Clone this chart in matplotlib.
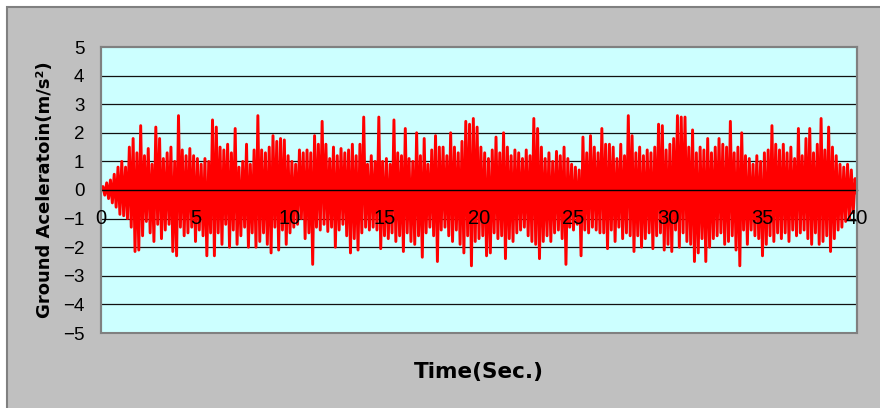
import numpy as np
import matplotlib.pyplot as plt
from matplotlib.patches import Rectangle

dt = 0.1
acc = [
    0.0, 0.12, -0.18, 0.25, -0.3, 0.35, -0.45, 0.55, -0.6, 0.8, -0.85,
    1.0, -0.9, 0.8, -1.0, 1.5, -1.3, 1.8, -2.15, 1.3, -2.1,
    2.25, -1.6, 1.2, -1.1, 1.45, -1.5, 0.9, -1.8, 2.2, -1.2,
    1.8, -1.7, 1.1, -1.4, 1.3, -1.2, 1.5, -2.15, 1.0, -2.3,
    2.6, -1.3, 1.4, -1.6, 1.2, -1.5, 1.45, -1.3, 1.2, -1.8,
    1.1, -1.4, 0.9, -1.6, 1.1, -2.3, 1.0, -1.5, 2.45, -2.3,
    2.2, -1.5, 1.5, -1.9, 1.4, -1.2, 1.6, -2.0, 1.3, -1.4,
    2.15, -1.9, 0.8, -1.6, 1.0, -1.3, 1.6, -2.0, 0.9, -1.5,
    1.4, -2.0, 2.6, -1.8, 1.4, -1.5, 1.3, -1.9, 1.5, -2.2,
    1.9, -1.3, 1.7, -2.1, 1.8, -1.4, 1.75, -1.9, 1.2, -1.5,
    1.0, -1.3, 0.9, -1.2, 1.4, -1.0, 1.3, -1.7, 1.4, -1.5,
    1.3, -2.6, 1.9, -1.3, 1.6, -1.4, 2.4, -1.2, 1.6, -1.45,
    1.1, -1.3, 1.5, -2.0, 1.2, -1.4, 1.45, -1.2, 1.3, -1.6,
    1.4, -2.2, 1.6, -1.7, 1.2, -2.1, 1.6, -1.5, 2.55, -1.3,
    0.9, -1.4, 1.2, -1.3, 1.0, -1.4, 2.55, -2.05, 1.0, -1.6,
    1.1, -1.7, 0.9, -1.5, 2.45, -1.8, 1.3, -1.6, 1.2, -2.15,
    2.15, -1.5, 1.1, -1.8, 1.0, -1.9, 2.0, -1.6, 1.2, -2.35,
    1.8, -1.5, 0.9, -1.3, 1.4, -1.6, 1.9, -2.5, 1.5, -1.4,
    1.5, -1.3, 1.2, -1.6, 2.0, -1.8, 1.5, -1.4, 1.3, -1.9,
    1.7, -2.2, 2.4, -1.6, 2.3, -2.65, 2.5, -1.8, 2.2, -1.7,
    1.5, -1.6, 1.3, -2.3, 1.1, -2.2, 1.4, -1.5, 1.85, -1.7,
    1.3, -1.6, 2.0, -2.4, 1.5, -1.7, 1.2, -1.8, 1.4, -1.5,
    1.3, -1.4, 1.1, -1.3, 1.4, -1.6, 1.2, -1.8, 2.5, -1.9,
    2.15, -2.4, 1.5, -1.8, 1.1, -1.6, 1.3, -1.8, 1.0, -1.5,
    1.35, -1.4, 1.2, -1.7, 1.5, -2.6, 1.1, -1.3, 0.9, -1.4,
    0.8, -1.2, 0.7, -2.3, 1.85, -1.4, 1.3, -1.5, 1.9, -1.3,
    1.5, -1.4, 1.3, -1.5, 2.15, -1.5, 1.6, -2.05, 1.6, -1.4,
    1.5, -1.8, 1.1, -1.3, 1.6, -1.7, 1.2, -1.5, 2.6, -1.6,
    1.9, -2.15, 1.3, -1.6, 1.5, -2.0, 1.2, -1.7, 1.4, -1.5,
    1.3, -2.05, 1.5, -1.6, 2.3, -1.5, 2.25, -2.1, 1.4, -1.9,
    1.6, -2.15, 1.8, -1.4, 2.6, -2.0, 2.55, -1.5, 2.55, -1.8,
    1.5, -1.9, 2.1, -2.5, 1.3, -2.2, 1.5, -1.7, 1.4, -2.5,
    1.8, -2.0, 1.3, -1.7, 1.5, -1.6, 1.8, -1.5, 1.6, -1.9,
    1.5, -1.8, 2.4, -1.6, 1.3, -2.1, 1.5, -2.65, 2.0, -1.4,
    1.2, -1.9, 1.1, -1.4, 0.9, -1.6, 1.2, -1.7, 1.0, -2.3,
    1.3, -1.9, 1.4, -1.6, 2.25, -1.8, 1.6, -1.5, 1.4, -1.7,
    1.6, -1.5, 1.3, -1.8, 1.5, -1.4, 1.1, -1.6, 2.15, -1.5,
    1.2, -1.4, 1.8, -1.7, 2.15, -1.9, 1.3, -1.5, 1.6, -1.9,
    2.5, -1.8, 1.4, -1.6, 2.2, -2.15, 1.5, -1.7, 1.2, -1.4,
    0.9, -1.3, 0.8, -1.1, 0.9, -1.0, 0.7, -0.8, 0.4, -0.1,
]
xticks = [0, 5, 10, 15, 20, 25, 30, 35, 40]
yticks = [-5, -4, -3, -2, -1, 0, 1, 2, 3, 4, 5]

t = np.arange(len(acc)) * dt

fig = plt.figure(figsize=(8.8, 4.08), dpi=100, facecolor='white')
# marco gris exterior
fig.patches.append(Rectangle((7 / 880, -0.01), 1.0, (408 - 7) / 408 + 0.01,
                             transform=fig.transFigure, facecolor='#c0c0c0',
                             edgecolor='#808080', linewidth=1.5, zorder=-10))

ax = fig.add_axes([101 / 880, 75 / 408, 756 / 880, 286 / 408])
ax.set_facecolor('#ccffff')

ax.plot(t, acc, color='#ff0000', lw=2.1, zorder=2)

ax.set_xlim(0, 40)
ax.set_ylim(-5, 5)
ax.set_xticks(xticks)
ax.set_yticks(yticks)

for y in yticks:
    if y not in (-5, 0, 5):
        ax.axhline(y, color='#111111', linewidth=0.9, zorder=1)

for side in ('left', 'top', 'right'):
    ax.spines[side].set_color('#808080')
    ax.spines[side].set_linewidth(1.5)
ax.spines['bottom'].set_position(('data', 0))
ax.spines['bottom'].set_color('#000000')
ax.spines['bottom'].set_linewidth(1.0)
ax.add_patch(Rectangle((0, 0), 1, 1, transform=ax.transAxes, fill=False,
                       edgecolor='#808080', linewidth=1.5, clip_on=False, zorder=3))

ax.tick_params(axis='x', length=0, pad=14, labelsize=14.5)
ax.tick_params(axis='y', length=0, pad=12, labelsize=13.5)
for lab in ax.get_xticklabels() + ax.get_yticklabels():
    lab.set_fontfamily('Liberation Sans')
ax.xaxis.set_zorder(3)

ax.set_xlabel('Time(Sec.)', fontsize=15.5, fontweight='bold', family='DejaVu Sans')
ax.xaxis.set_label_coords(0.5, -0.1)
ax.set_ylabel('Ground Aceleratoin(m/s²)', fontsize=13, fontweight='bold', family='DejaVu Sans')
ax.yaxis.set_label_coords(-0.062, 0.5)

plt.savefig('out.png', dpi=100)
